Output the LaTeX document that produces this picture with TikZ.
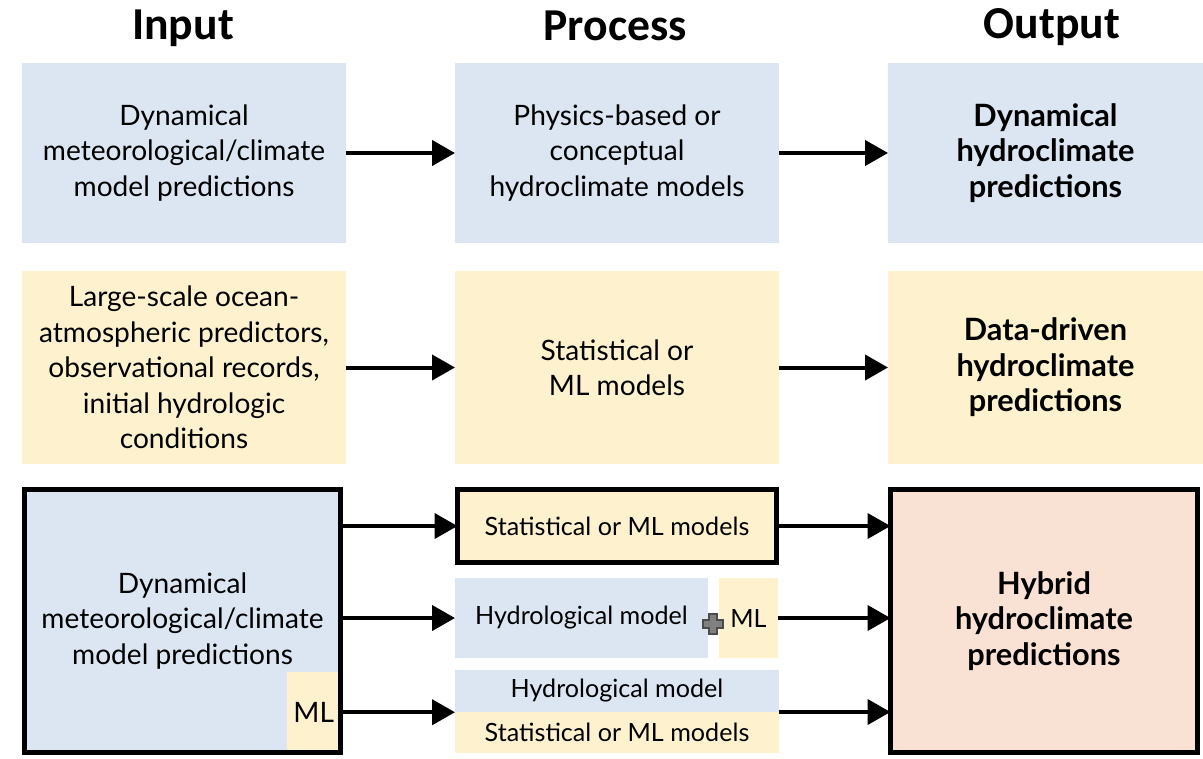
\documentclass[tikz,border=0pt]{standalone}
\usepackage{fontspec}
\setmainfont{Lato}
\newfontfamily\headfont{Carlito}
\usepackage{xcolor}
\usepackage{tikz}
\usetikzlibrary{arrows.meta}

\definecolor{boxblue}{RGB}{220,230,242}
\definecolor{boxyellow}{RGB}{254,242,206}
\definecolor{boxpeach}{RGB}{249,226,212}

\begin{document}
\begin{tikzpicture}[x=0.02cm, y=-0.02cm,
		box/.style={inner sep=0pt, outer sep=0pt, align=center, font=\fontsize{16pt}{20.2pt}\selectfont},
		smallbox/.style={box, font=\fontsize{14.3pt}{17pt}\selectfont},
		boldbox/.style={box, font=\fontsize{17.5pt}{20.2pt}\selectfont\bfseries},
		bluebox/.style={box, fill=boxblue},
		yellowbox/.style={box, fill=boxyellow},
		frame/.style={line width=0.1cm},
		arr/.style={line width=0.08cm, -{Triangle[length=0.46cm, width=0.5cm]}},
		head/.style={font=\headfont\bfseries\fontsize{26pt}{30pt}\selectfont}]
	
		% Fix the picture size
		\useasboundingbox (0,0) rectangle (1203,758);
	
		% Column headings
		\node[head] (hin) at (183,28) {Input};
		\node[head] (hpr) at (615,26) {Process};
		\node[head] (hout) at (1052,27) {Output};
	
		% First row: dynamical
		\node[bluebox, minimum width=6.48cm, minimum height=3.6cm] (in1) at (184,153) {Dynamical\\meteorological/climate\\model predictions};
		\node[bluebox, minimum width=6.48cm, minimum height=3.6cm] (pr1) at (617,153) {Physics-based or\\conceptual\\hydroclimate models};
		\node[boldbox, fill=boxblue, minimum width=6.3cm, minimum height=3.6cm] (out1) at (1045.5,153) {Dynamical\\hydroclimate\\predictions};
	
		% Second row: data-driven
		\node[yellowbox, minimum width=6.48cm, minimum height=3.86cm] (in2) at (184,367.5) {Large-scale ocean-\\atmospheric predictors,\\observational records,\\initial hydrologic\\conditions};
		\node[yellowbox, minimum width=6.48cm, minimum height=3.86cm] (pr2) at (617,367.5) {Statistical or\\ML models};
		\node[boldbox, fill=boxyellow, minimum width=6.3cm, minimum height=3.86cm] (out2) at (1045.5,367.5) {Data-driven\\hydroclimate\\predictions};
	
		% Third row: hybrid input with ML corner
		\node[bluebox, minimum width=6.32cm, minimum height=5.26cm] (in3) at (182.5,621) {Dynamical\\meteorological/climate\\model predictions};
		\node[yellowbox, anchor=south east, minimum width=1.07cm, minimum height=1.61cm] (mlin) at (in3.south east) {ML};
		\draw[frame] (in3.north west) rectangle (in3.south east);
	
		% Third row: the three hybrid processes
		\node[yellowbox, smallbox, draw, frame, minimum width=6.38cm, minimum height=1.46cm] (st3) at (617,526) {Statistical or ML models};
		\node[bluebox, smallbox, minimum width=5.06cm, minimum height=1.6cm] (hy3) at (581.5,618) {Hydrological model};
		\node[yellowbox, smallbox, minimum width=1.18cm, minimum height=1.6cm] (ml3) at (748.5,618) {ML};
		\node[bluebox, smallbox, minimum width=6.48cm, minimum height=0.84cm] (hb) at (617,691) {Hydrological model};
		\node[yellowbox, smallbox, anchor=north, minimum width=6.48cm, minimum height=0.82cm] (sb) at (hb.south) {Statistical or ML models};
	
		% Plus sign between model and ML
		\filldraw[fill=gray, draw=black!70, line width=0.7pt] (703,620) -- ++(6,0) -- ++(0,-6) -- ++(8,0) -- ++(0,6) -- ++(6,0) -- ++(0,8) -- ++(-6,0) -- ++(0,6) -- ++(-8,0) -- ++(0,-6) -- ++(-6,0) -- cycle;
	
		% Third row: hybrid output
		\node[boldbox, fill=boxpeach, draw, frame, minimum width=6.14cm, minimum height=5.26cm] (out3) at (1044,621) {Hybrid\\hydroclimate\\predictions};
	
		% Arrows into the processes
		\draw[arr] (in1) -- (pr1);
		\draw[arr] (in2) -- (pr2);
		\draw[arr] (in3.east |- st3) -- (st3.west);
		\draw[arr] (in3.east |- hy3) -- (hy3.west);
		\draw[arr] (mlin.east) -- (mlin.east -| hb.south west);
	
		% Arrows into the outputs
		\draw[arr] (pr1) -- (out1);
		\draw[arr] (pr2) -- (out2);
		\draw[arr] (st3.east) -- (st3.east -| out3.west);
		\draw[arr] (ml3.east) -- (ml3.east -| out3.west);
		\draw[arr] (hb.south east) -- (hb.south east -| out3.west);
	
	\end{tikzpicture}
\end{document}
